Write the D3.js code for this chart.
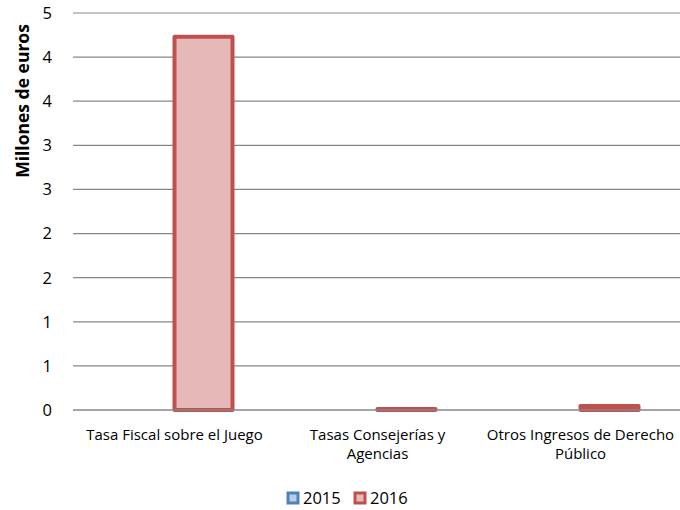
<!DOCTYPE html>
<html><head><meta charset="utf-8">
<script src="https://cdn.jsdelivr.net/npm/d3@7"></script>
<style>body{margin:0;background:#fff;} text{font-family:"Open Sans",Lato,sans-serif;fill:#000;}</style>
</head><body><svg id="c" width="680" height="510"></svg>
<script>
const categories = [["Tasa Fiscal sobre el Juego"], ["Tasas Consejerías y", "Agencias"], ["Otros Ingresos de Derecho", "Público"]];
const series = ["2015", "2016"];
const values2015 = [0, 0, 0];
const values2016 = [4.23, 0.01, 0.045];
const tickValues = [0, 0.5, 1, 1.5, 2, 2.5, 3, 3.5, 4, 4.5];
const tickLabels = ["0", "1", "1", "2", "2", "3", "3", "4", "4", "5"];
const colors = {"2015": {fill: "#b9cde5", stroke: "#4f81bd"}, "2016": {fill: "#e6b9b8", stroke: "#c0504d"}};

(function () {
const svg = d3.select("#c");
const mLeft = 73, mRight = 682, mTop = 13, mBottom = 410;
const y = d3.scaleLinear().domain([0, 4.5]).range([mBottom, mTop]);
const x0 = d3.scaleBand().domain(d3.range(categories.length)).range([mLeft, mRight]).paddingInner(0).paddingOuter(0);
const x1 = d3.scaleBand().domain(series).range([0, x0.bandwidth()]).paddingInner(0).paddingOuter(0.75);

// gridlines
svg.append("g").selectAll("line").data(tickValues.slice(1)).join("line")
  .attr("x1", mLeft).attr("x2", 680).attr("y1", d => y(d)).attr("y2", d => y(d))
  .attr("stroke", "#878787").attr("stroke-width", 1.2);

// tick labels
svg.append("g").selectAll("text").data(tickValues).join("text")
  .attr("x", 52).attr("y", d => y(d)).attr("dy", "0.36em").attr("text-anchor", "end")
  .style("font-size", "16.5px").text((d, i) => tickLabels[i]);

// y title
svg.append("text").attr("transform", "translate(29,101) rotate(-90)").attr("text-anchor", "middle")
  .style("font-size", "17.5px").style("font-weight", "bold").text("Millones de euros");

// bars
const data = [];
categories.forEach((c, i) => {
  data.push({i, s: "2015", v: values2015[i]});
  data.push({i, s: "2016", v: values2016[i]});
});
svg.append("g").selectAll("rect").data(data.filter(d => d.v > 0)).join("rect")
  .attr("x", d => x0(d.i) + x1(d.s)).attr("width", x1.bandwidth())
  .attr("y", d => y(d.v)).attr("height", d => Math.max(0, y(0) - y(d.v)))
  .attr("fill", d => colors[d.s].fill).attr("stroke", d => colors[d.s].stroke)
  .attr("stroke-width", 4).attr("stroke-linejoin", "round");

// zero axis line
svg.append("line").attr("x1", mLeft).attr("x2", 680).attr("y1", y(0)).attr("y2", y(0))
  .attr("stroke", "#878787").attr("stroke-width", 1.5);

// category labels
const cl = svg.append("g").selectAll("text").data(categories).join("text")
  .attr("text-anchor", "middle").style("font-size", "15px")
  .attr("transform", (d, i) => `translate(${x0(i) + x0.bandwidth() / 2},440)`);
cl.selectAll("tspan").data(d => d).join("tspan").attr("x", 0).attr("dy", (d, j) => j === 0 ? 0 : 19).text(d => d);

// legend
const lg = svg.append("g").attr("transform", "translate(287,492)");
const items = lg.selectAll("g").data(series).join("g").attr("transform", (d, i) => `translate(${i * 67},0)`);
items.append("rect").attr("x", 1).attr("y", 1).attr("width", 10).attr("height", 10)
  .attr("fill", d => colors[d].fill).attr("stroke", d => colors[d].stroke).attr("stroke-width", 3);
items.append("text").attr("x", 16).attr("y", 6).attr("dy", "0.36em").style("font-size", "16.5px").text(d => d);
})();
</script></body></html>
